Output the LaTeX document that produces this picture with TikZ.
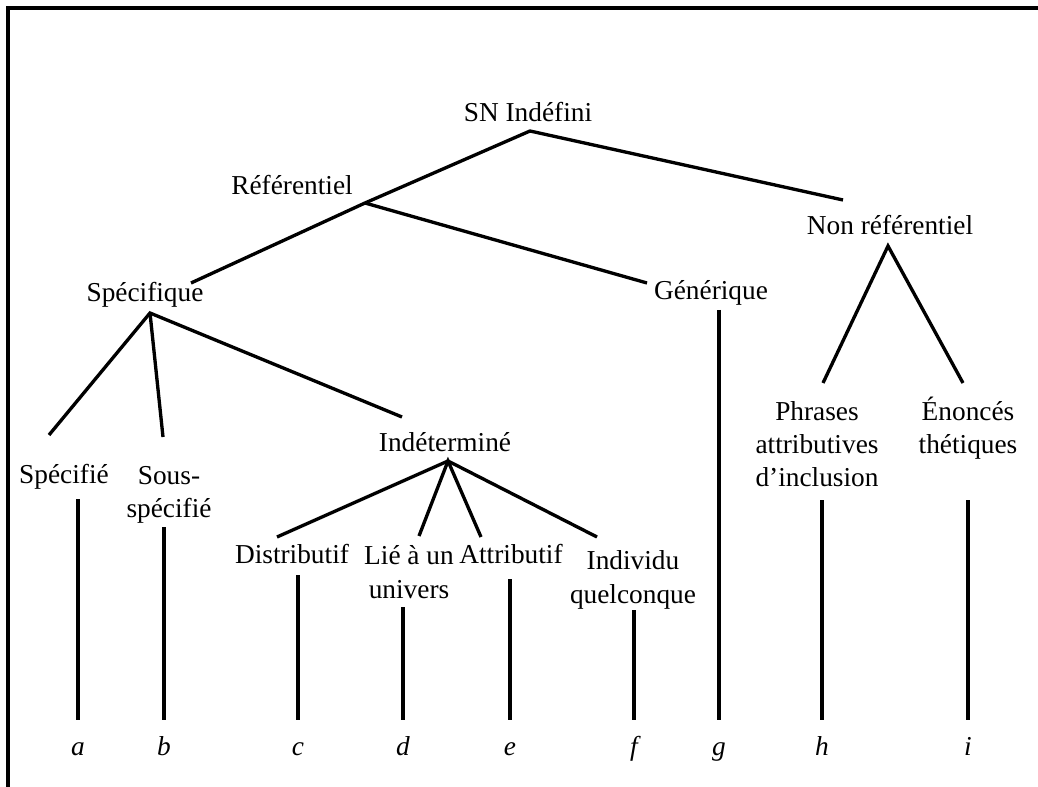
\documentclass[tikz,border=0pt]{standalone}
\usepackage{fontspec}
\setmainfont{Liberation Serif}

\begin{document}
\begin{tikzpicture}[x=0.75pt,y=0.75pt,yscale=-1,xscale=1,
    lbl/.style={inner sep=0.75pt, align=center, font=\fontsize{20.5}{25}\selectfont},
    leaf/.style={anchor=north, inner xsep=0pt, inner ysep=11.5pt, text height=15pt, text depth=4pt, font=\fontsize{20.5}{25}\selectfont\itshape},
    branch/.style={line width=2.5pt}]
    \useasboundingbox (0,0) rectangle (1038,787);
    \draw [line width=2.5pt] (1038,8) -- (8,8) -- (8,787);

    % etiquettes
    \node [lbl] (sn) at (528,112) {SN Indéfini};
    \node [lbl] (refl) at (292,185) {Référentiel};
    \node [lbl] (spe) at (145,295) {Spécifique};
    \node [lbl] (gen) at (711,293) {Générique};
    \node [lbl] (nref) at (890,225) {Non référentiel};
    \node [lbl] (spf) at (64,477) {Spécifié};
    \node [lbl] (sous) at (169,495) {Sous-\\spécifié};
    \node [lbl] (ind) at (445,442) {Indéterminé};
    \node [lbl] (dis) at (292,554) {Distributif};
    \node [lbl] (lie) at (409,572) {Lié à un\\univers};
    \node [lbl] (att) at (511,554) {Attributif};
    \node [lbl] (idv) at (633,580) {Individu\\quelconque};
    \node [lbl] (phr) at (817,444) {Phrases\\attributives\\d’inclusion};
    \node [lbl] (enon) at (968,428) {Énoncés\\thétiques};

    % points d'attache
    \coordinate (sn-dn) at (530,131);
    \coordinate (ref) at (365,203);
    \coordinate (spe-up) at (191,283);
    \coordinate (spe-dn) at (150,313);
    \coordinate (gen-up) at (647,283);
    \coordinate (gen-dn) at (719,310);
    \coordinate (nref-up) at (843,200);
    \coordinate (nref-dn) at (888,246);
    \coordinate (spf-up) at (49,435);
    \coordinate (spf-dn) at (78,499);
    \coordinate (sous-up) at (163,437);
    \coordinate (sous-dn) at (164,527);
    \coordinate (ind-up) at (402,417);
    \coordinate (ind-dn) at (448,461);
    \coordinate (dis-up) at (277,537);
    \coordinate (dis-dn) at (298,575);
    \coordinate (lie-up) at (419,536);
    \coordinate (lie-dn) at (403,607);
    \coordinate (att-up) at (481,537);
    \coordinate (att-dn) at (510,579);
    \coordinate (idv-up) at (597,537);
    \coordinate (idv-dn) at (634,610);
    \coordinate (phr-up) at (823,383);
    \coordinate (phr-dn) at (822,500);
    \coordinate (enon-up) at (963,383);
    \coordinate (enon-dn) at (968,500);

    % feuilles
    \node [leaf] (a) at (78,720) {a};
    \node [leaf] (b) at (164,720) {b};
    \node [leaf] (c) at (298,720) {c};
    \node [leaf] (d) at (403,720) {d};
    \node [leaf] (e) at (510,720) {e};
    \node [leaf] (f) at (634,720) {f};
    \node [leaf] (g) at (719,720) {g};
    \node [leaf] (h) at (822,720) {h};
    \node [leaf] (i) at (968,720) {i};

    % branches
    \draw [branch] (spe-up) -- (ref) -- (sn-dn) -- (nref-up);
    \draw [branch] (ref) -- (gen-up);
    \draw [branch] (spf-up) -- (spe-dn) -- (ind-up);
    \draw [branch] (spe-dn) -- (sous-up);
    \draw [branch] (dis-up) -- (ind-dn) -- (idv-up);
    \draw [branch] (lie-up) -- (ind-dn) -- (att-up);
    \draw [branch] (phr-up) -- (nref-dn) -- (enon-up);
    \foreach \n/\l in {spf/a, sous/b, dis/c, lie/d, att/e, idv/f, gen/g, phr/h, enon/i}
        \draw [branch] (\n-dn) -- (\l);
\end{tikzpicture}
\end{document}
